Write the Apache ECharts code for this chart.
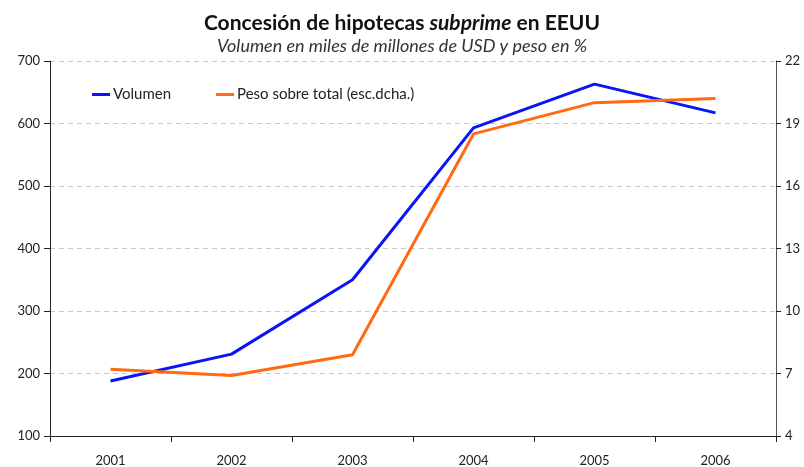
<!DOCTYPE html>
<html><head><meta charset="utf-8">
<script src="https://cdn.jsdelivr.net/npm/echarts@6/dist/echarts.min.js"></script>
<style>html,body{margin:0;padding:0;background:#fff}#c{width:804px;height:467px}</style>
</head><body><div id="c"></div>
<script>
const categories = ['2001','2002','2003','2004','2005','2006'];
const volumen = [188, 231, 350, 593, 663, 617];
const peso = [7.2, 6.9, 7.9, 18.5, 20.0, 20.2];
const leftTicks = [100, 700, 100];   // min, max, interval
const rightTicks = [4, 22, 3];

const font = 'Lato, "Open Sans", sans-serif';
const chart = echarts.init(document.getElementById('c'), null, {renderer: 'canvas'});
chart.setOption({
  animation: false,
  textStyle: {fontFamily: font},
  title: {
    text: 'Concesión de hipotecas {i|subprime} en EEUU',
    subtext: 'Volumen en miles de millones de USD y peso en %',
    left: 'center', top: 8, itemGap: 3,
    textStyle: {fontFamily: font, fontSize: 21, fontWeight: 'bold', color: '#111',
      rich: {i: {fontFamily: font, fontSize: 21, fontWeight: 'bold', fontStyle: 'italic', color: '#111'}}},
    subtextStyle: {fontFamily: font, fontSize: 18, fontStyle: 'italic', color: '#333'}
  },
  legend: {
    left: 87, top: 82, itemWidth: 18, itemHeight: 3, itemGap: 45,
    icon: 'rect',
    textStyle: {fontFamily: font, fontSize: 15, color: '#222', padding: [0,0,0,-2]},
    data: ['Volumen', 'Peso sobre total (esc.dcha.)']
  },
  grid: {left: 50, right: 28, top: 61, bottom: 31},
  xAxis: {
    type: 'category', data: categories, boundaryGap: true,
    axisLine: {lineStyle: {color: '#222'}},
    axisTick: {show: true, length: 6, lineStyle: {color: '#222'}},
    axisLabel: {margin: 18, color: '#222', fontSize: 13, fontFamily: font}
  },
  yAxis: [{
    type: 'value', min: leftTicks[0], max: leftTicks[1], interval: leftTicks[2],
    axisLine: {show: true, lineStyle: {color: '#222'}},
    axisTick: {show: true, length: 6, lineStyle: {color: '#222'}},
    axisLabel: {color: '#222', fontSize: 13, margin: 10, fontFamily: font},
    splitLine: {show: true, lineStyle: {color: '#c8c8c8', type: [5, 4]}}
  }, {
    type: 'value', min: rightTicks[0], max: rightTicks[1], interval: rightTicks[2],
    position: 'right',
    axisLine: {show: true, lineStyle: {color: '#555'}},
    axisTick: {show: true, length: 5, lineStyle: {color: '#222'}},
    axisLabel: {color: '#222', fontSize: 13, margin: 9, fontFamily: font},
    splitLine: {show: false}
  }],
  series: [{
    name: 'Volumen', type: 'line', data: volumen, yAxisIndex: 0,
    symbol: 'none', lineStyle: {color: '#0a14f5', width: 3}, itemStyle: {color: '#0a14f5'}
  }, {
    name: 'Peso sobre total (esc.dcha.)', type: 'line', data: peso, yAxisIndex: 1,
    symbol: 'none', lineStyle: {color: '#ff6a12', width: 3}, itemStyle: {color: '#ff6a12'}
  }]
});
</script></body></html>
